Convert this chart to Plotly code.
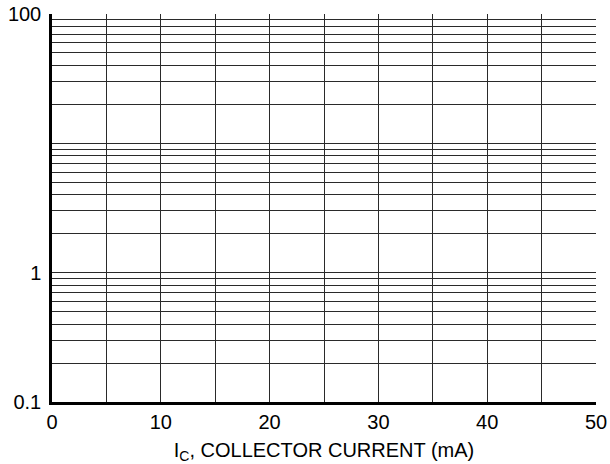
import plotly.graph_objects as go

# Data / axes definitions
x_tick_vals = [0, 5, 10, 15, 20, 25, 30, 35, 40, 45, 50]
x_tick_text = ["0", "", "10", "", "20", "", "30", "", "40", "", "50"]
y_decades = [0.1, 1, 10]
y_multipliers = [1, 2, 3, 4, 5, 6, 7, 8, 9]
y_labelled = {0.1: "0.1", 1: "1", 100: "100"}

y_tick_vals = [round(d * m, 6) for d in y_decades for m in y_multipliers] + [100]
y_tick_text = [y_labelled.get(v, "") for v in y_tick_vals]

fig = go.Figure()
fig.add_trace(go.Scatter(x=[0, 50], y=[0.1, 100], mode="markers",
                         marker=dict(opacity=0), hoverinfo="skip", showlegend=False))

font = dict(family="Liberation Sans, Arial, sans-serif", size=20, color="#000")
grid_color = "#2a2a2a"

fig.update_layout(
    width=610, height=464,
    margin=dict(l=52, r=14, t=14, b=62, autoexpand=False),
    paper_bgcolor="white", plot_bgcolor="white",
    font=font,
    showlegend=False,
)
fig.update_xaxes(
    range=[0, 50], tickmode="array", tickvals=x_tick_vals, ticktext=x_tick_text,
    showgrid=True, gridcolor=grid_color, gridwidth=1.3,
    showline=True, linecolor="black", linewidth=2.5,
    ticks="", zeroline=False, tickfont=font, automargin=False, ticklabelstandoff=0,
    title=dict(text="I<sub>C</sub>, COLLECTOR CURRENT (mA)", font=font, standoff=12),
)
fig.update_yaxes(
    type="log", range=[-1, 2], tickmode="array", tickvals=y_tick_vals, ticktext=y_tick_text,
    showgrid=True, gridcolor=grid_color, gridwidth=1.3,
    showline=True, linecolor="black", linewidth=2.5,
    ticks="", zeroline=False, tickfont=font, ticklabelstandoff=4, automargin=False,
)

fig.write_html("out.html", config={"displayModeBar": False},
               post_script="document.body.style.margin='0';document.body.style.overflow='hidden';")
